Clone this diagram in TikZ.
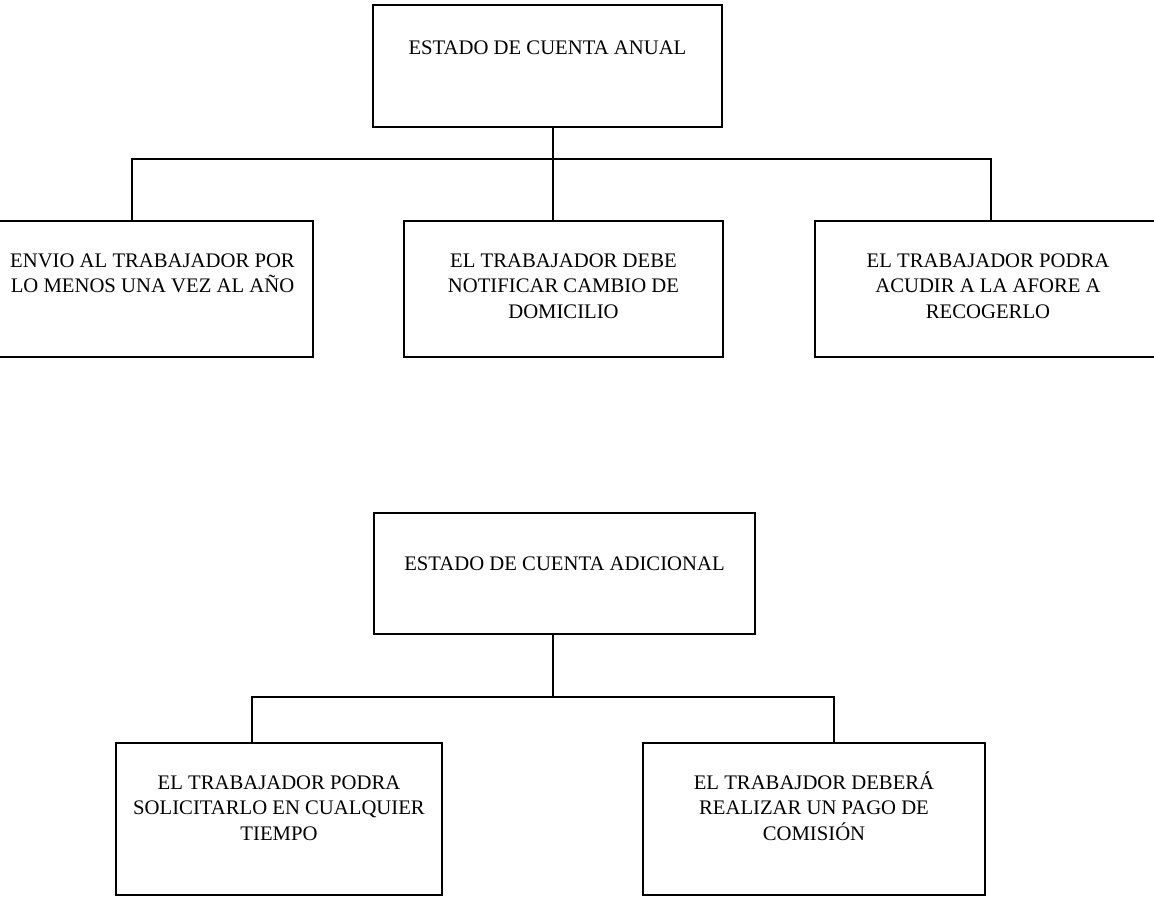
\documentclass[tikz,border=0pt]{standalone}
\usepackage{fontspec}
\setmainfont{Liberation Serif}
\tikzset{
  box/.style={draw, rectangle, line width=1.8pt, inner sep=0pt},
  lbl/.style={anchor=north, align=center, inner sep=0pt,
    font=\fontsize{20.7}{25.5}\selectfont},
  link/.style={line width=1.8pt, line cap=rect}
}
% strut that fixes the height of each label's first line
\newcommand{\firststrut}{\rule{0pt}{20pt}}
\begin{document}
\begin{tikzpicture}[x=1pt,y=-1pt]
  \fill[white] (0,0) rectangle (1154,897);
  \clip (0,0) rectangle (1154,897);

  % ---- annual statement ----
  \node[box, minimum width=349pt, minimum height=122pt] (b0) at (547.5,66) {};
  \node[box, minimum width=321pt, minimum height=136pt] (b1) at (152.5,289) {};
  \node[box, minimum width=319pt, minimum height=136pt] (b2) at (563.5,289) {};
  \node[box, minimum width=346pt, minimum height=136pt] (b3) at (988,289) {};

  \node[lbl] (t0) at ([yshift=-30pt]b0.north) {\firststrut ESTADO DE CUENTA ANUAL};
  \node[lbl] (t1) at ([yshift=-27pt]b1.north) {\firststrut ENVIO AL TRABAJADOR POR\\LO MENOS UNA VEZ AL AÑO};
  \node[lbl] (t2) at ([yshift=-27pt]b2.north) {\firststrut EL TRABAJADOR DEBE\\NOTIFICAR CAMBIO DE\\DOMICILIO};
  \node[lbl] (t3) at ([yshift=-27pt]b3.north) {\firststrut EL TRABAJADOR PODRA\\ACUDIR A LA AFORE A\\RECOGERLO};

  \coordinate (d1) at (132,159);
  \coordinate (d2) at (553,159);
  \coordinate (d3) at (991,159);
  \draw[link] (d2 |- b0.south) -- (d2);
  \draw[link] (d1) -- (d3);
  \draw[link] (d1) -- (d1 |- b1.north);
  \draw[link] (d2) -- (d2 |- b2.north);
  \draw[link] (d3) -- (d3 |- b3.north);

  % ---- additional statement ----
  \node[box, minimum width=381pt, minimum height=121pt] (c0) at (564.5,573.5) {};
  \node[box, minimum width=326pt, minimum height=152pt] (c1) at (279,819) {};
  \node[box, minimum width=342pt, minimum height=152pt] (c2) at (814,819) {};

  \node[lbl] (s0) at ([yshift=-38pt]c0.north) {\firststrut ESTADO DE CUENTA ADICIONAL};
  \node[lbl] (s1) at ([yshift=-27pt]c1.north) {\firststrut EL TRABAJADOR PODRA\\SOLICITARLO EN CUALQUIER\\TIEMPO};
  \node[lbl] (s2) at ([yshift=-27pt]c2.north) {\firststrut EL TRABAJDOR DEBERÁ\\REALIZAR UN PAGO DE\\COMISIÓN};

  \coordinate (e1) at (252,697);
  \coordinate (e2) at (553,697);
  \coordinate (e3) at (834,697);
  \draw[link] (e2 |- c0.south) -- (e2);
  \draw[link] (e1) -- (e3);
  \draw[link] (e1) -- (e1 |- c1.north);
  \draw[link] (e3) -- (e3 |- c2.north);
\end{tikzpicture}
\end{document}
